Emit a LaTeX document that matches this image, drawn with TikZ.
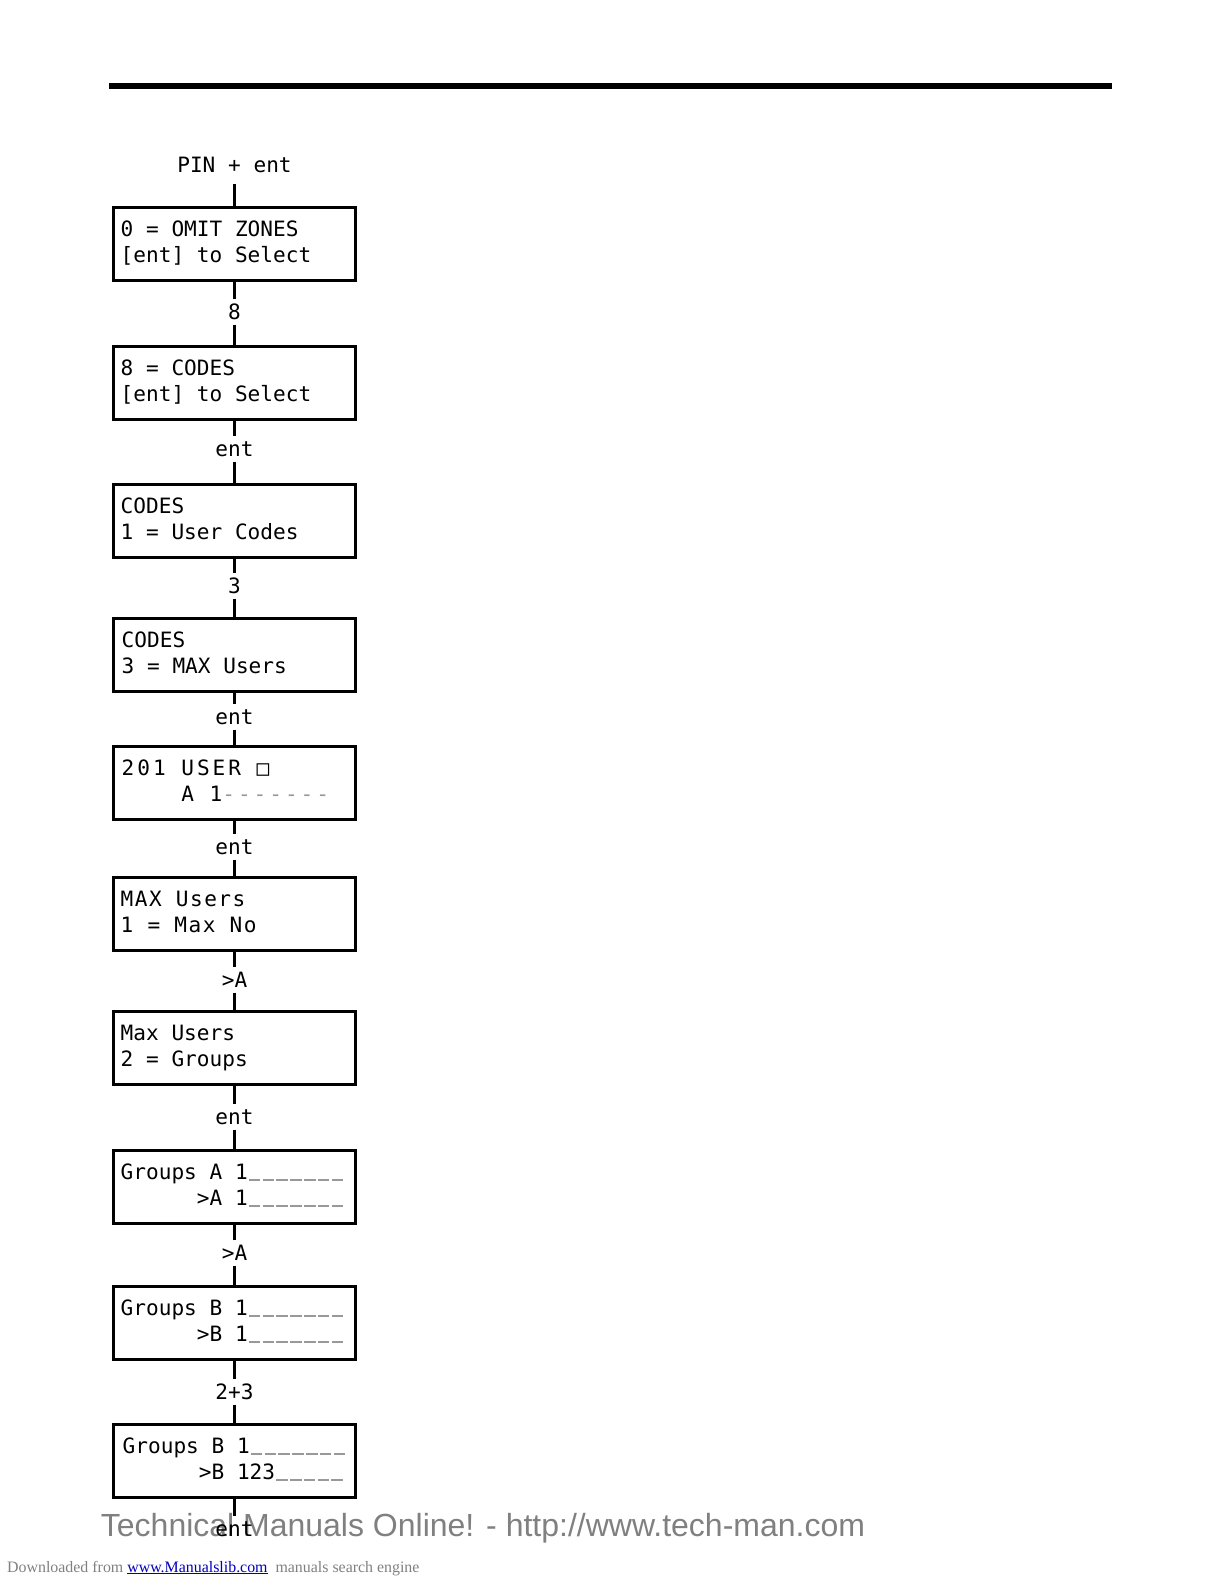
\documentclass[tikz,border=0pt]{standalone}
\usepackage{fontspec}
\setmonofont{DejaVu Sans Mono}
\newfontfamily\wmfont{Liberation Sans}
\newfontfamily\dlfont{Liberation Serif}
\usetikzlibrary{calc}
\definecolor{lcdgray}{gray}{0.6}
\definecolor{wmgray}{gray}{0.5}
\definecolor{linkblue}{RGB}{0,0,190}
\newlength\lcdcw
\newcommand\lcdfont{\ttfamily\fontsize{21.1}{26}\selectfont\settowidth{\lcdcw}{0}}
\newcommand\lcdwidefont{\lcdfont\addfontfeature{LetterSpace=14}}
\newcommand\lcdmidfont{\lcdfont\addfontfeature{LetterSpace=7}}
\newcommand\lcdbar{\makebox[13.8pt][c]{\textcolor{lcdgray}{\rule[-2pt]{11.5pt}{2.2pt}}}}
\newcommand\lcdbars[1]{\foreach \i in {1,...,#1}{\lcdbar}}
\tikzset{
  lcdbox/.style={draw, line width=3pt, minimum width=242pt, minimum height=73pt, inner sep=0pt},
  lcdtext/.style={anchor=base west, inner sep=0pt, font=\lcdfont},
  keylabel/.style={font=\lcdfont, text height=15pt, text depth=0pt, inner xsep=2pt, inner ysep=5pt},
  wire/.style={line width=3pt}
}
\begin{document}
\begin{tikzpicture}[x=1pt,y=-1pt]
\useasboundingbox (0,0) rectangle (1224,1584);
\coordinate (ruleL) at (109,86);
\coordinate (ruleR) at (1112,86);
\draw[line width=6pt] (ruleL) -- (ruleR);

% watermark and footer
\node[font=\wmfont\fontsize{32}{38}\selectfont, text=wmgray, anchor=base, inner sep=0pt] (wm) at (483,1536) {Technical Manuals Online! - http://www.tech-man.com};
\node[anchor=base west, font=\dlfont\fontsize{15.9}{18}\selectfont, inner sep=0pt] (dl) at (7,1572) {\textcolor{wmgray}{Downloaded from }\textcolor{linkblue}{\underline{www.Manualslib.com}}\textcolor{wmgray}{\ \ manuals search engine}};

% boxes
\node[lcdbox] (b1) at (234.5,244) {};
\node[lcdbox] (b2) at (234.5,383) {};
\node[lcdbox] (b3) at (234.5,521) {};
\node[lcdbox] (b4) at (234.5,654.5) {};
\node[lcdbox] (b5) at (234.5,782.5) {};
\node[lcdbox] (b6) at (234.5,913.5) {};
\node[lcdbox] (b7) at (234.5,1047.5) {};
\node[lcdbox] (b8) at (234.5,1186.5) {};
\node[lcdbox] (b9) at (234.5,1322.5) {};
\node[lcdbox] (b10) at (234.5,1460.5) {};

% box texts
\node[lcdtext] (b1a) at ($(b1.north west)+(8.5,30.5)$) {0 = OMIT ZONES};
\node[lcdtext] (b1b) at ($(b1.north west)+(8.5,56.5)$) {[ent] to Select};
\node[lcdtext] (b2a) at ($(b2.north west)+(8.5,30.5)$) {8 = CODES};
\node[lcdtext] (b2b) at ($(b2.north west)+(8.5,56.5)$) {[ent] to Select};
\node[lcdtext] (b3a) at ($(b3.north west)+(8.5,30.5)$) {CODES};
\node[lcdtext] (b3b) at ($(b3.north west)+(8.5,56.5)$) {1 = User Codes};
\node[lcdtext] (b4a) at ($(b4.north west)+(9.5,30.5)$) {CODES};
\node[lcdtext] (b4b) at ($(b4.north west)+(9.5,56.5)$) {3 = MAX Users};
\node[lcdtext,font=\lcdwidefont] (b5a) at ($(b5.north west)+(9.5,30.5)$) {201 USER □};
\node[lcdtext,font=\lcdwidefont] (b5b) at ($(b5.north west)+(9.5,56.5)$) {\phantom{0000}A 1\textcolor{lcdgray}{-------}};
\node[lcdtext,font=\lcdmidfont] (b6a) at ($(b6.north west)+(8.5,30.5)$) {MAX Users};
\node[lcdtext,font=\lcdmidfont] (b6b) at ($(b6.north west)+(8.5,56.5)$) {1 = Max No};
\node[lcdtext] (b7a) at ($(b7.north west)+(8.5,30.5)$) {Max Users};
\node[lcdtext] (b7b) at ($(b7.north west)+(8.5,56.5)$) {2 = Groups};
\node[lcdtext] (b8a) at ($(b8.north west)+(8.5,30.5)$) {Groups A 1\lcdbars{7}};
\node[lcdtext] (b8b) at ($(b8.north west)+(8.5,56.5)$) {\phantom{Groups}>A 1\lcdbars{7}};
\node[lcdtext] (b9a) at ($(b9.north west)+(8.5,30.5)$) {Groups B 1\lcdbars{7}};
\node[lcdtext] (b9b) at ($(b9.north west)+(8.5,56.5)$) {\phantom{Groups}>B 1\lcdbars{7}};
\node[lcdtext] (b10a) at ($(b10.north west)+(10.5,30.5)$) {Groups B 1\lcdbars{7}};
\node[lcdtext] (b10b) at ($(b10.north west)+(10.5,56.5)$) {\phantom{Groups}>B 123\lcdbars{5}};

% key labels
\node[keylabel,inner ysep=11pt] (k0) at (234.5,165) {PIN + ent};
\node[keylabel] (k1) at (234.5,312) {8};
\node[keylabel] (k2) at (234.5,449) {ent};
\node[keylabel] (k3) at (234.5,586) {3};
\node[keylabel] (k4) at (234.5,717) {ent};
\node[keylabel] (k5) at (234.5,847) {ent};
\node[keylabel] (k6) at (234.5,980) {>A};
\node[keylabel] (k7) at (234.5,1117) {ent};
\node[keylabel] (k8) at (234.5,1253) {>A};
\node[keylabel] (k9) at (234.5,1392) {2+3};
\node[keylabel] (k10) at (234.5,1529) {ent};

% connectors
\draw[wire] (k0) -- (b1);
\draw[wire] (b1) -- (k1);
\draw[wire] (k1) -- (b2);
\draw[wire] (b2) -- (k2);
\draw[wire] (k2) -- (b3);
\draw[wire] (b3) -- (k3);
\draw[wire] (k3) -- (b4);
\draw[wire] (b4) -- (k4);
\draw[wire] (k4) -- (b5);
\draw[wire] (b5) -- (k5);
\draw[wire] (k5) -- (b6);
\draw[wire] (b6) -- (k6);
\draw[wire] (k6) -- (b7);
\draw[wire] (b7) -- (k7);
\draw[wire] (k7) -- (b8);
\draw[wire] (b8) -- (k8);
\draw[wire] (k8) -- (b9);
\draw[wire] (b9) -- (k9);
\draw[wire] (k9) -- (b10);
\draw[wire] (b10) -- (k10);
\end{tikzpicture}
\end{document}
